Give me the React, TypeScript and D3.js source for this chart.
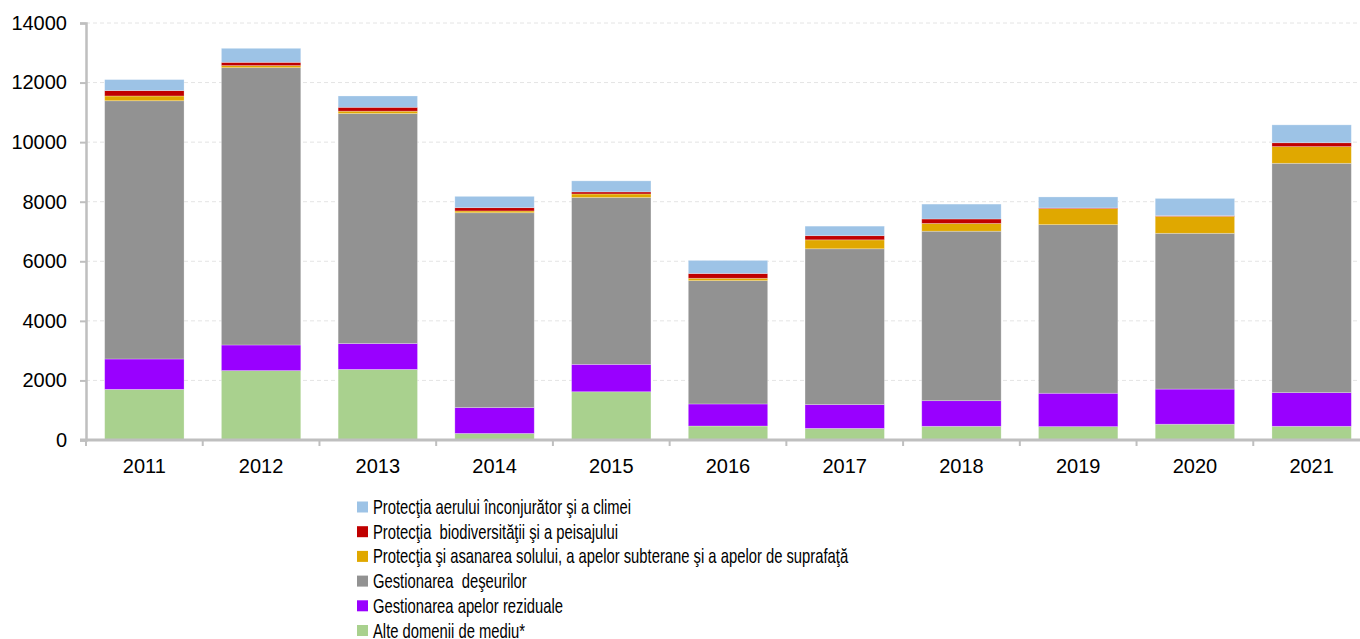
import React, { useRef, useEffect } from 'react';
import * as d3 from 'd3';

const years = ['2011', '2012', '2013', '2014', '2015', '2016', '2017', '2018', '2019', '2020', '2021'];

// stacked from bottom to top
const alteDomenii = [1700, 2330, 2370, 220, 1620, 470, 390, 460, 450, 530, 460];
const apeReziduale = [1020, 860, 870, 870, 920, 740, 800, 860, 1120, 1180, 1130];
const deseuri = [8670, 9310, 7720, 6540, 5600, 4140, 5230, 5690, 5660, 5230, 7700];
const solApe = [160, 70, 80, 60, 120, 80, 300, 260, 540, 570, 560];
const biodiversitate = [180, 110, 130, 110, 70, 160, 140, 150, 20, 20, 130];
const aer = [370, 470, 380, 380, 370, 440, 320, 500, 370, 580, 600];

const yTicks = [0, 2000, 4000, 6000, 8000, 10000, 12000, 14000];

const series = [
  { key: 'alte', label: 'Alte domenii de mediu*', values: alteDomenii, color: '#a9d18e' },
  { key: 'rez', label: 'Gestionarea apelor reziduale', values: apeReziduale, color: '#9900ff' },
  { key: 'des', label: 'Gestionarea  deşeurilor', values: deseuri, color: '#929292' },
  { key: 'sol', label: 'Protecţia şi asanarea solului, a apelor subterane şi a apelor de suprafaţă', values: solApe, color: '#e0a800' },
  { key: 'bio', label: 'Protecţia  biodiversităţii şi a peisajului', values: biodiversitate, color: '#c00000' },
  { key: 'aer', label: 'Protecţia aerului înconjurător şi a climei', values: aer, color: '#9dc3e6' },
];

const App: React.FC = () => {
  const svgRef = useRef<SVGSVGElement>(null);

  useEffect(() => {
    if (!svgRef.current) return;
    const svg = d3.select(svgRef.current);
    svg.selectAll('*').remove();

    const width = 1360;
    const height = 639;
    const margin = { left: 86, right: -10, top: 23, bottom: 199 };
    const innerW = width - margin.left - margin.right;
    const innerH = height - margin.top - margin.bottom;

    const x = d3.scaleBand<string>().domain(years).range([0, innerW]).paddingInner(0.32).paddingOuter(0.16);
    const xTick = d3.scaleBand<string>().domain(years).range([0, innerW]);
    const y = d3.scaleLinear().domain([0, 14000]).range([innerH, 0]);

    const g = svg.append('g').attr('transform', `translate(${margin.left},${margin.top})`);

    // dashed grid lines
    g.append('g')
      .selectAll('line')
      .data(yTicks.slice(1))
      .join('line')
      .attr('x1', 0)
      .attr('x2', innerW)
      .attr('y1', d => y(d))
      .attr('y2', d => y(d))
      .attr('stroke', '#e4e4e4')
      .attr('stroke-width', 1)
      .attr('stroke-dasharray', '4,3');

    const rows = years.map((yr, i) => {
      const r: Record<string, any> = { year: yr };
      series.forEach(s => (r[s.key] = s.values[i]));
      return r;
    });
    const stack = d3.stack<Record<string, any>>().keys(series.map(s => s.key));
    const stacked = stack(rows);

    stacked.forEach((layer, li) => {
      g.append('g')
        .selectAll('rect')
        .data(layer)
        .join('rect')
        .attr('x', d => x(d.data.year)!)
        .attr('width', x.bandwidth())
        .attr('y', d => y(d[1]))
        .attr('height', d => y(d[0]) - y(d[1]))
        .attr('fill', series[li].color)
        .attr('stroke', '#ffffff')
        .attr('stroke-opacity', 0.35)
        .attr('stroke-width', 0.75);
    });

    // y axis
    const yAxis = g.append('g').call(d3.axisLeft(y).tickValues(yTicks).tickSize(6).tickPadding(13).tickFormat(d => String(d)));
    yAxis.select('.domain').attr('stroke', '#bfbfbf').attr('stroke-width', 2.5);
    yAxis.selectAll('.tick line').attr('stroke', '#bfbfbf').attr('stroke-width', 2);
    yAxis.selectAll('text').attr('font-size', 20).attr('fill', '#000').attr('font-family', 'Liberation Sans, Arial, sans-serif');

    // x axis
    const xAxis = g.append('g').attr('transform', `translate(0,${innerH})`);
    xAxis.append('line')
      .attr('x1', -6)
      .attr('x2', innerW)
      .attr('y1', 0)
      .attr('y2', 0)
      .attr('stroke', '#bfbfbf')
      .attr('stroke-width', 3);
    xAxis.selectAll('line.tk')
      .data(years)
      .join('line')
      .attr('class', 'tk')
      .attr('x1', d => xTick(d)!)
      .attr('x2', d => xTick(d)!)
      .attr('y1', 0)
      .attr('y2', 6)
      .attr('stroke', '#bfbfbf')
      .attr('stroke-width', 2);
    xAxis.selectAll('text')
      .data(years)
      .join('text')
      .attr('x', d => x(d)! + x.bandwidth() / 2)
      .attr('y', 33)
      .attr('text-anchor', 'middle')
      .attr('font-size', 20)
      .attr('font-family', 'Liberation Sans, Arial, sans-serif')
      .attr('fill', '#000')
      .text(d => d);

    // legend (text is horizontally condensed, like the original narrow font)
    const legend = svg.append('g').attr('transform', 'translate(357,507)');
    const legendItems = [...series].reverse();
    legendItems.forEach((s, i) => {
      const row = legend.append('g').attr('transform', `translate(0,${i * 24.7})`);
      row.append('rect').attr('x', 0).attr('y', -5.5).attr('width', 11).attr('height', 11).attr('fill', s.color);
      row.append('text')
        .attr('transform', 'translate(16,0) scale(0.74,1)')
        .attr('x', 0)
        .attr('y', 0)
        .attr('dy', '0.35em')
        .attr('font-size', 20)
        .attr('font-family', 'Liberation Sans, Arial, sans-serif')
        .attr('fill', '#000')
        .style('white-space', 'pre')
        .text(s.label);
    });
  }, []);

  return (
    <svg
      ref={svgRef}
      width={1360}
      height={639}
      style={{ position: 'absolute', left: 0, top: 0, background: '#fff' }}
    />
  );
};

export default App;
